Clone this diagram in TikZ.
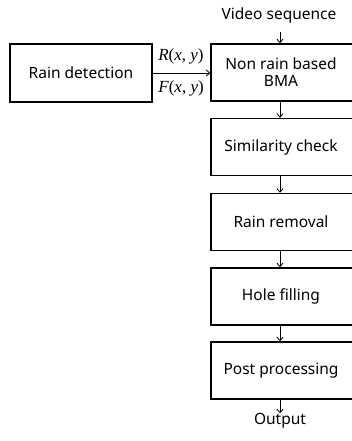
\documentclass[tikz,border=0pt]{standalone}
\usepackage{fontspec}
\setsansfont{Noto Sans}
\setmainfont{Liberation Serif}
\usetikzlibrary{arrows.meta}
\newcommand{\bxtext}[1]{\parbox{140pt}{\centering #1}\hspace*{16pt}}
\begin{document}
\begin{tikzpicture}[x=1pt,y=-1pt,
  stepbox/.style={draw, line width=1.4pt, minimum width=156pt, minimum height=57pt, inner sep=0pt,
    font=\sffamily\fontsize{15.5}{17}\selectfont},
  detbox/.style={draw, line width=1.4pt, minimum width=142pt, minimum height=58pt, inner sep=0pt,
    font=\sffamily\fontsize{15.5}{17}\selectfont},
  plain/.style={inner sep=0pt, font=\sffamily\fontsize{15.5}{17}\selectfont},
  lab/.style={inner sep=0pt, font=\rmfamily\fontsize{17}{19}\selectfont},
  conn/.style={line width=0.8pt, -{Straight Barb[length=3.5pt,width=6pt]}}]
\useasboundingbox (0,0) rectangle (351,441);
\node[plain] (vid) at (279,15) {Video sequence};
\node[stepbox] (bma) at (289,72.5) {\bxtext{Non rain based\\BMA}};
\node[stepbox] (sim) at (289,147) {\bxtext{Similarity check}};
\node[stepbox] (rem) at (289,222) {\bxtext{Rain removal}};
\node[stepbox] (hole) at (289,296.5) {\bxtext{Hole filling}};
\node[stepbox] (post) at (289,370.5) {\bxtext{Post processing}};
\node[plain] (out) at (280,421) {Output};
\node[detbox] (det) at (81,73) {Rain detection};
\node[lab] (R) at (181,56) {\textit{R}(\textit{x}, \textit{y})};
\node[lab] (F) at (181,88) {\textit{F}(\textit{x}, \textit{y})};
\draw[conn] ([xshift=-9pt]bma.north |- 0,32) -- ([xshift=-9pt]bma.north);
\draw[conn] ([xshift=-9pt]bma.south) -- ([xshift=-9pt]sim.north);
\draw[conn] ([xshift=-9pt]sim.south) -- ([xshift=-9pt]rem.north);
\draw[conn] ([xshift=-9pt]rem.south) -- ([xshift=-9pt]hole.north);
\draw[conn] ([xshift=-9pt]hole.south) -- ([xshift=-9pt]post.north);
\draw[conn] ([xshift=-9pt]post.south) -- ([xshift=-9pt]post.south |- out.north);
\draw[conn] (det.east) -- (det.east -| bma.west);
\end{tikzpicture}
\end{document}
